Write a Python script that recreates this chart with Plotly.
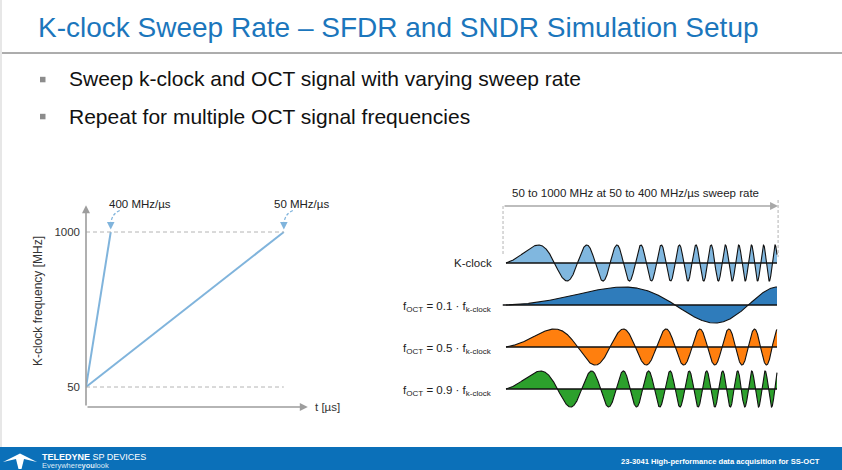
import numpy as np
import plotly.graph_objects as go

W, H = 842, 470
FONT = "Liberation Sans, Arial, sans-serif"

# ---------------- slide text ----------------
TITLE = "K-clock Sweep Rate – SFDR and SNDR Simulation Setup"
BULLETS = ["Sweep k-clock and OCT signal with varying sweep rate",
           "Repeat for multiple OCT signal frequencies"]
FOOTER_RIGHT = "23-3041 High-performance data acquisition for SS-OCT"

# ---------------- left chart data ----------------
FREQ_RANGE_MHZ = [50, 1000]          # sweep start / stop frequency
SWEEP_RATES = [400, 50]              # MHz/µs
RATE_LABELS = ["400 MHz/µs", "50 MHz/µs"]
Y_TICKS = [50, 1000]
Y_TICK_TEXT = ["50", "1000"]

# ---------------- right chart data ----------------
SWEEP_HEADER = "50 to 1000 MHz at 50 to 400 MHz/µs sweep rate"
SIGNAL_LABELS = ["K-clock",
                 "f<sub>OCT</sub> = 0.1 · f<sub>k-clock</sub>",
                 "f<sub>OCT</sub> = 0.5 · f<sub>k-clock</sub>",
                 "f<sub>OCT</sub> = 0.9 · f<sub>k-clock</sub>"]
OCT_RATIOS = [1.0, 0.1, 0.5, 0.9]
SIGNAL_COLORS = ["#80b7df", "#2f7cbb", "#ff7f0e", "#2ca02c"]
# positions (fraction of sweep) of the k-clock peaks
KCLOCK_PEAK_POS = [0.125, 0.304, 0.413, 0.497, 0.571, 0.638, 0.700,
                   0.756, 0.809, 0.860, 0.907, 0.950, 0.993]

# ---------------- helpers (pixel -> paper) ----------------
def px(x):
    return x / W

def py(y):
    return 1 - y / H

fig = go.Figure()
shapes = []
ann = []

# ---------------- slide frame ----------------
shapes.append(dict(type="line", xref="paper", yref="paper", x0=px(1), x1=px(1),
                   y0=py(0), y1=py(447), line=dict(color="#cfcfcf", width=1)))
shapes.append(dict(type="line", xref="paper", yref="paper", x0=px(2), x1=1,
                   y0=py(53), y1=py(53), line=dict(color="#5a5a5a", width=1)))
ann.append(dict(text=TITLE, xref="paper", yref="paper", x=px(36), y=py(27),
                xanchor="left", yanchor="middle", showarrow=False,
                font=dict(family=FONT, size=28, color="#1b76bc")))
for i, b in enumerate(BULLETS):
    yc = [79, 116][i]
    shapes.append(dict(type="rect", xref="paper", yref="paper",
                       x0=px(40), x1=px(45.5), y0=py(yc - 2.2), y1=py(yc + 3.3),
                       fillcolor="#8c8c8c", line=dict(width=0)))
    ann.append(dict(text=b, xref="paper", yref="paper", x=px(67), y=py(yc),
                    xanchor="left", yanchor="middle", showarrow=False,
                    font=dict(family=FONT, size=21, color="#111111")))

# footer
shapes.append(dict(type="rect", xref="paper", yref="paper", x0=0, x1=1,
                   y0=0, y1=py(447), fillcolor="#0b70b9", line=dict(width=0)))
shapes.append(dict(type="path", xref="paper", yref="paper",
                   path=(f"M{px(3)},{py(462)} L{px(20)},{py(453.5)} L{px(37)},{py(462)} "
                         f"L{px(24)},{py(459)} L{px(21.5)},{py(469)} L{px(18.5)},{py(469)} "
                         f"L{px(16)},{py(459)} Z"),
                   fillcolor="white", line=dict(width=0)))
ann.append(dict(text="<b>TELEDYNE</b> SP DEVICES", xref="paper", yref="paper",
                x=px(40), y=py(456.5), xanchor="left", yanchor="middle", showarrow=False,
                font=dict(family=FONT, size=9, color="white")))
ann.append(dict(text="Everywhere<b>you</b>look", xref="paper", yref="paper",
                x=px(40), y=py(465), xanchor="left", yanchor="middle", showarrow=False,
                font=dict(family=FONT, size=7.5, color="#dce9f5")))
ann.append(dict(text="<b>" + FOOTER_RIGHT + "</b>", xref="paper", yref="paper",
                x=px(822), y=py(461), xanchor="right", yanchor="middle", showarrow=False,
                font=dict(family=FONT, size=7.6, color="white")))

# ---------------- left chart ----------------
LINE_BLUE = "#80b4dc"
AXIS_GRAY = "#9d9d9d"
X0_PX, X1_PX = 86, 313
Y_TOP_PX, Y_BOT_PX = 205, 407
T_MAX = 21.8
Y_LO, Y_HI = -72.6, 1165.5

t_end = [(FREQ_RANGE_MHZ[1] - FREQ_RANGE_MHZ[0]) / r for r in SWEEP_RATES]

for te in t_end:
    fig.add_trace(go.Scatter(x=[0, te], y=FREQ_RANGE_MHZ, mode="lines",
                             line=dict(color=LINE_BLUE, width=2),
                             xaxis="x", yaxis="y", showlegend=False, hoverinfo="skip"))

t_long = max(t_end)
for f in FREQ_RANGE_MHZ:
    shapes.append(dict(type="line", xref="x", yref="y", x0=0, x1=t_long, y0=f, y1=f,
                       line=dict(color="#b4b4b4", width=1, dash="4px,3px")))

# axis arrows
ann.append(dict(xref="x", yref="y", axref="x", ayref="y", x=0, y=Y_HI - 2,
                ax=0, ay=Y_LO, showarrow=True, arrowhead=2, arrowsize=1,
                arrowwidth=1.6, arrowcolor=AXIS_GRAY, text=""))
ann.append(dict(xref="x", yref="y", axref="x", ayref="y", x=21.3, y=Y_LO,
                ax=0, ay=Y_LO, showarrow=True, arrowhead=2, arrowsize=1,
                arrowwidth=1.6, arrowcolor=AXIS_GRAY, text=""))
ann.append(dict(text="t [µs]", xref="paper", yref="paper", x=px(313), y=py(407),
                xanchor="left", yanchor="middle", showarrow=False,
                font=dict(family=FONT, size=11.5, color="#333333")))
ann.append(dict(text="K-clock frequency [MHz]", xref="paper", yref="paper",
                x=px(38), y=py(301), textangle=-90, xanchor="center", yanchor="middle",
                showarrow=False, font=dict(family=FONT, size=12, color="#333333")))

# rate labels with curved dashed arrows
px_per_us = (X1_PX - X0_PX) / T_MAX
label_left_px = [107, 272]
for lbl, te, lx in zip(RATE_LABELS, t_end, label_left_px):
    ex = X0_PX + te * px_per_us
    ann.append(dict(text=lbl, xref="paper", yref="paper", x=px(lx), y=py(204),
                    xanchor="left", yanchor="middle", showarrow=False,
                    font=dict(family=FONT, size=11.5, color="#222222")))
    sx, sy = ex + 9, 210.5
    shapes.append(dict(type="path", xref="paper", yref="paper",
                       path=f"M{px(sx)},{py(sy)} Q{px(ex + 1.5)},{py(213.5)} {px(ex)},{py(223)}",
                       line=dict(color=LINE_BLUE, width=1.3, dash="3px,2px")))
    shapes.append(dict(type="path", xref="paper", yref="paper",
                       path=(f"M{px(ex - 3.8)},{py(222)} L{px(ex + 3.8)},{py(222)} "
                             f"L{px(ex)},{py(229.5)} Z"),
                       fillcolor=LINE_BLUE, line=dict(width=0)))

# ---------------- right chart ----------------
AMP = 0.43
u = np.linspace(0, 1, 2000)
pp = np.array(KCLOCK_PEAK_POS)
peak_phase = np.arange(len(pp)) + 0.25
A = np.column_stack([pp, pp ** 2])
coef = np.linalg.lstsq(A, peak_phase, rcond=None)[0]
phase = coef[0] * u + coef[1] * u ** 2

for i, (lbl, r, col) in enumerate(zip(SIGNAL_LABELS, OCT_RATIOS, SIGNAL_COLORS)):
    base = -i
    yv = base + AMP * np.sin(2 * np.pi * r * phase)
    fig.add_trace(go.Scatter(x=np.concatenate([u, [1, 0]]),
                             y=np.concatenate([yv, [base, base]]),
                             fill="toself", fillcolor=col, mode="lines",
                             line=dict(width=0, color=col),
                             xaxis="x2", yaxis="y2", showlegend=False, hoverinfo="skip"))
    fig.add_trace(go.Scatter(x=u, y=yv, mode="lines",
                             line=dict(color="#111111", width=1.1),
                             xaxis="x2", yaxis="y2", showlegend=False, hoverinfo="skip"))
    x_start = -0.012 if i == 1 else 0
    fig.add_trace(go.Scatter(x=[x_start, 1], y=[base, base], mode="lines",
                             line=dict(color="#111111", width=1.5),
                             xaxis="x2", yaxis="y2", showlegend=False, hoverinfo="skip"))
    ann.append(dict(text=lbl, xref="x2", yref="y2", x=-0.044, y=base,
                    xanchor="right", yanchor="middle", showarrow=False,
                    yshift=(0 if i == 0 else -2),
                    font=dict(family=FONT, size=11.5, color="#222222")))

# header arrow and dashed markers
ann.append(dict(xref="x2", yref="y2", axref="x2", ayref="y2", x=1.004, y=1.357,
                ax=-0.011, ay=1.357, showarrow=True, arrowhead=2, arrowsize=1,
                arrowwidth=1.6, arrowcolor="#a8a8a8", text=""))
ann.append(dict(text=SWEEP_HEADER, xref="paper", yref="paper", x=px(635), y=py(193),
                xanchor="center", yanchor="middle", showarrow=False,
                font=dict(family=FONT, size=11.5, color="#222222")))
shapes.append(dict(type="line", xref="x2", yref="y2", x0=-0.011, x1=-0.011,
                   y0=1.357, y1=0.2, line=dict(color="#b4b4b4", width=1, dash="3px,2px")))
shapes.append(dict(type="line", xref="x2", yref="y2", x0=1.004, x1=1.004,
                   y0=1.5, y1=0.14, line=dict(color="#b4b4b4", width=1, dash="3px,2px")))

axis_off = dict(showgrid=False, zeroline=False, showline=False, ticks="",
                showticklabels=False, fixedrange=True)

fig.update_layout(
    width=W, height=H, margin=dict(l=0, r=0, t=0, b=0),
    paper_bgcolor="white", plot_bgcolor="rgba(0,0,0,0)",
    showlegend=False,
    xaxis=dict(domain=[px(X0_PX), px(X1_PX)], range=[0, T_MAX], **axis_off),
    yaxis=dict(domain=[py(Y_BOT_PX), py(Y_TOP_PX)], range=[Y_LO, Y_HI],
               showgrid=False, zeroline=False, showline=False, ticks="",
               tickvals=Y_TICKS, ticktext=Y_TICK_TEXT, ticklabelstandoff=5,
               tickfont=dict(family=FONT, size=11.5, color="#333333"), fixedrange=True),
    xaxis2=dict(domain=[px(490), px(790)], range=[(490 - 506) / 271, (790 - 506) / 271],
                anchor="y2", **axis_off),
    yaxis2=dict(domain=[py(410), py(200)], range=[-3.5, 1.5], anchor="x2", **axis_off),
    shapes=shapes, annotations=ann,
)

fig.write_html("out.html", config={"displayModeBar": False},
               post_script="document.body.style.margin='0';document.body.style.overflow='hidden';")
